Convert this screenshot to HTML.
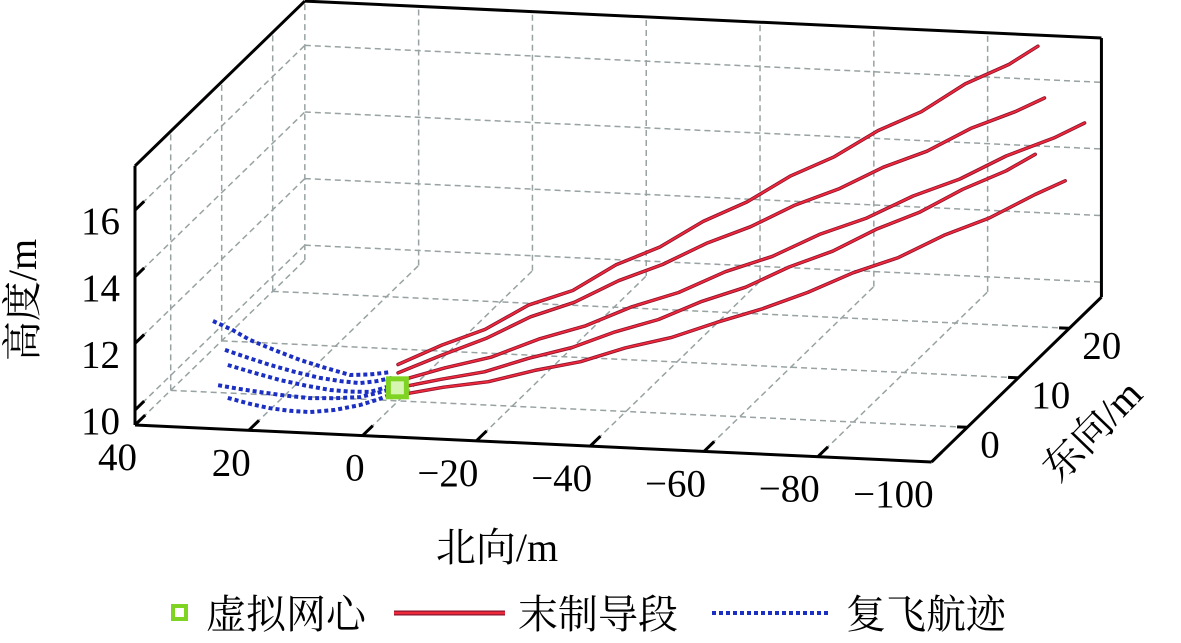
<!DOCTYPE html>
<html><head><meta charset="utf-8"><style>
html,body{margin:0;padding:0;background:#fff;}
svg{display:block;font-family:"Liberation Serif","Noto Serif CJK SC",serif;}
</style></head><body>
<svg id="chart" width="1181" height="643" viewBox="0 0 1181 643" xmlns="http://www.w3.org/2000/svg">
<g id="grid"></g>
<g id="box"></g>
<g id="series"></g>
<g id="labels"></g>
<text x="497" y="561" font-size="40" text-anchor="middle">北向/m</text>
<text transform="translate(36,300) rotate(-90)" font-size="40" text-anchor="middle">高度/m</text>
<text transform="translate(1102,440) rotate(-46)" font-size="40" text-anchor="middle">东向/m</text>
<g>
  <rect x="173" y="606" width="13" height="13" fill="none" stroke="#7fd323" stroke-width="4"/>
  <text x="206" y="628" font-size="40">虚拟网心</text>
  <line x1="394" y1="613" x2="505" y2="613" stroke="#8a1530" stroke-width="5"/>
  <line x1="394" y1="613" x2="505" y2="613" stroke="#ee2a3a" stroke-width="2.5"/>
  <text x="518" y="628" font-size="40">末制导段</text>
  <line x1="712" y1="613" x2="830" y2="613" stroke="#1b2fc2" stroke-width="4" stroke-dasharray="4 3"/>
  <text x="846" y="628" font-size="40">复飞航迹</text>
</g>
<script>
// ---- data ----
const northTicks = [40, 20, 0, -20, -40, -60, -80, -100];
const eastTicks = [0, 10, 20];
const heightTicks = [10, 12, 14, 16];
const northLabels = ["40", "20", "0", "\u221220", "\u221240", "\u221260", "\u221280", "\u2212100"];
const eastLabels = ["0", "10", "20"];
const heightLabels = ["10", "12", "14", "16"];
const northRange = [40, -100];
const eastRange = [-7, 26.3];
const heightRange = [9.55, 17.33];

const centerPoint = [-1.9, -2.3, 10.3];

const red1N = [-2,-8,-14,-20,-26,-32,-38,-44,-50,-56,-62,-68,-74,-80,-86,-90];
const red1E = [-2.3,-0.4,1.4,3.3,5.2,7.0,8.9,10.7,12.6,14.5,16.3,18.2,20.0,21.9,23.8,25.0];
const red1Z = [11.0,11.35,11.6,12.1,12.3,12.85,13.15,13.7,14.05,14.6,14.95,15.5,15.85,16.45,16.8,17.2];
const red2N = [-2,-8,-14,-20,-26,-32,-38,-44,-50,-56,-62,-68,-74,-80,-86,-90];
const red2E = [-2.3,-0.4,1.6,3.6,5.5,7.5,9.4,11.3,13.3,15.3,17.2,19.2,21.1,23.0,25.0,26.3];
const red2Z = [10.75,11.05,11.3,11.7,11.9,12.3,12.55,12.95,13.2,13.6,13.85,14.25,14.5,14.95,15.2,15.45];
const red3N = [-2,-8.7,-15.3,-22.1,-28.8,-35.4,-42.1,-48.7,-55.4,-62.2,-68.8,-75.5,-82.2,-88.8,-95.6,-100];
const red3E = [-2.3,-0.6,1.1,2.9,4.6,6.3,8.0,9.8,11.5,13.2,14.9,16.7,18.4,20.1,21.9,23.0];
const red3Z = [10.5,10.7,10.82,11.15,11.35,11.72,11.95,12.36,12.62,13.08,13.36,13.82,14.13,14.62,14.95,15.27];
const red4N = [-2,-8.3,-14.6,-21.1,-27.4,-33.7,-40,-46.4,-52.7,-59.1,-65.4,-71.8,-78.1,-84.4,-90.8,-95];
const red4E = [-2.3,-0.9,0.6,2.0,3.5,4.9,6.4,7.8,9.3,10.7,12.2,13.6,15.0,16.5,17.9,18.9];
const red4Z = [10.3,10.4,10.45,10.7,10.85,11.16,11.36,11.75,12.0,12.45,12.75,13.25,13.6,14.12,14.52,14.9];
const red5N = [-2,-8.7,-15.3,-22.1,-28.8,-35.4,-42.1,-48.7,-55.4,-62.2,-68.8,-75.5,-82.2,-88.8,-95.6,-100];
const red5E = [-2.3,-0.8,0.6,2.1,3.6,5.0,6.5,8.0,9.4,10.9,12.4,13.8,15.3,16.8,18.2,19.2];
const red5Z = [10.08,10.15,10.16,10.33,10.42,10.68,10.82,11.1,11.35,11.68,12.1,12.4,12.9,13.25,13.8,14.1];

const blue1N = [30.5,27,24,19.5,15.2,10.8,6.4,3,-0.6];
const blue1Z = [12.05,11.8,11.53,11.25,11.0,10.8,10.62,10.66,10.76];
const blue2N = [28.4,24.5,20.5,16,11.7,8,4.7,1.8,-0.9];
const blue2Z = [11.2,11.0,10.81,10.63,10.49,10.42,10.39,10.47,10.59];
const blue3N = [27.9,23.3,18.7,14.3,9.9,6.4,2.9,0.9,-1.1];
const blue3Z = [10.75,10.55,10.37,10.24,10.14,10.12,10.14,10.25,10.38];
const blue4N = [29.6,26,22.2,17.8,13.5,9.1,4.7,1.6,-1.5];
const blue4Z = [10.13,10.05,9.98,9.91,9.87,9.9,9.97,10.12,10.29];
const blue5N = [27.9,24.2,20.5,17,13.5,9.1,4.7,1.6,-1.5];
const blue5Z = [9.76,9.62,9.51,9.46,9.45,9.55,9.73,9.92,10.14];
const blueE = [-2.3,-2.3,-2.3,-2.3,-2.3];

// ---- projection ----
const ORIGIN = [135, 425];
const NV = [5.69, 0.264];
const EV = [5.1, -4.95];
const ZV = 33.3;
function px(n, e, z) {
  const a = northRange[0] - n, b = e - eastRange[0], c = z - heightRange[0];
  return [ORIGIN[0] + a * NV[0] + b * EV[0], ORIGIN[1] + a * NV[1] + b * EV[1] - c * ZV];
}
const NS = "http://www.w3.org/2000/svg";
function mk(tag, attrs, parent) {
  const el = document.createElementNS(NS, tag);
  for (const k in attrs) el.setAttribute(k, attrs[k]);
  parent.appendChild(el);
  return el;
}
function seg(p, q, parent, stroke, w, dash) {
  const a = { x1: p[0], y1: p[1], x2: q[0], y2: q[1], stroke: stroke, "stroke-width": w };
  if (dash) a["stroke-dasharray"] = dash;
  return mk("line", a, parent);
}
const grid = document.getElementById("grid");
const box = document.getElementById("box");
const series = document.getElementById("series");
const labels = document.getElementById("labels");
const N0 = northRange[0], N1 = northRange[1], E0 = eastRange[0], E1 = eastRange[1], Z0 = heightRange[0], Z1 = heightRange[1];
const GC = "#98a2a2", GD = "6 4";

northTicks.forEach(n => {
  let l = seg(px(n, E1, Z0), px(n, E1, Z1), grid, GC, 1.5, GD);
  
  
  l = seg(px(n, E0, Z0), px(n, E1, Z0), grid, GC, 1.5, GD);
  
  
});
heightTicks.forEach(z => {
  let l = seg(px(N0, E1, z), px(N1, E1, z), grid, GC, 1.5, GD);
  
  
  l = seg(px(N0, E0, z), px(N0, E1, z), grid, GC, 1.5, GD);
  
  
});
eastTicks.forEach(e => {
  let l = seg(px(N0, e, Z0), px(N0, e, Z1), grid, GC, 1.5, GD);
  
  
  l = seg(px(N0, e, Z0), px(N1, e, Z0), grid, GC, 1.5, GD);
  
  
});
[[px(N0,E0,Z0),px(N1,E0,Z0)],[px(N1,E0,Z0),px(N1,E1,Z0)],[px(N0,E0,Z0),px(N0,E0,Z1)],
 [px(N0,E0,Z1),px(N0,E1,Z1)],[px(N0,E1,Z1),px(N1,E1,Z1)],[px(N1,E1,Z0),px(N1,E1,Z1)]].forEach(s => {
  const l = seg(s[0], s[1], box, "#000", 3);
  
  
});
northTicks.forEach((n, i) => {
  const p = px(n, E0, Z0), q = px(n, E0 + 2, Z0);
  const l = seg(p, q, box, "#000", 3);
  
  
  const t = mk("text", { x: p[0] + 2, y: p[1] + 45, "font-size": 39, "text-anchor": "end" }, labels);
  
  
  t.textContent = northLabels[i];
});
heightTicks.forEach((z, i) => {
  const p = px(N0, E0, z), q = px(N0, E0 + 1.8, z);
  const l = seg(p, q, box, "#000", 3);
  
  
  const t = mk("text", { x: p[0] - 15, y: p[1] + 24, "font-size": 39, "text-anchor": "end" }, labels);
  
  
  t.textContent = heightLabels[i];
});
eastTicks.forEach((e, i) => {
  const p = px(N1, e, Z0), q = px(N1 + 1.8, e, Z0);
  const l = seg(p, q, box, "#000", 3);
  
  
  const t = mk("text", { x: p[0] + 13, y: p[1] + 30, "font-size": 39, "text-anchor": "start" }, labels);
  
  
  t.textContent = eastLabels[i];
});
function path(ns, es, zs) {
  return ns.map((n, i) => { const p = px(n, es[i], zs[i]); return (i ? "L" : "M") + p[0].toFixed(1) + "," + p[1].toFixed(1); }).join(" ");
}
const blues = [[blue1N, blue1Z], [blue2N, blue2Z], [blue3N, blue3Z], [blue4N, blue4Z], [blue5N, blue5Z]];
blues.forEach((b, k) => {
  const es = b[0].map(() => blueE[k]);
  const p = mk("path", { d: path(b[0], es, b[1]), fill: "none", stroke: "#1b2fc2", "stroke-width": 4, "stroke-dasharray": "4 3" }, series);
  
  
});
const reds = [[red1N, red1E, red1Z], [red2N, red2E, red2Z], [red3N, red3E, red3Z], [red4N, red4E, red4Z], [red5N, red5E, red5Z]];
reds.forEach(r => {
  const d = path(r[0], r[1], r[2]);
  const o = mk("path", { d: d, fill: "none", stroke: "#8a1530", "stroke-width": 3.5, "stroke-linejoin": "round", "stroke-linecap": "round" }, series);
  
  
  const p = mk("path", { d: d, fill: "none", stroke: "#f0283a", "stroke-width": 1.8, "stroke-linejoin": "round", "stroke-linecap": "round" }, series);
  
  
});
const c = px(centerPoint[0], centerPoint[1], centerPoint[2]);
const m = mk("rect", { x: c[0] - 9, y: c[1] - 9, width: 18, height: 18, fill: "#d6f5b0", stroke: "#7fd323", "stroke-width": 5 }, series);


</script>
</svg>
</body></html>
